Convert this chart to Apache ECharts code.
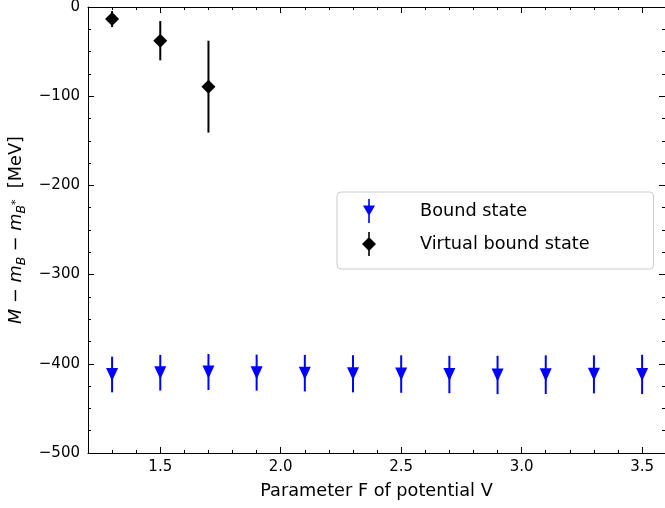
<!DOCTYPE html>
<html>
<head>
<meta charset="utf-8">
<script src="https://cdn.jsdelivr.net/npm/echarts@6/dist/echarts.min.js"></script>
<style>html,body{margin:0;padding:0;background:#fff;}#c{width:665px;height:508px;}</style>
</head>
<body>
<div id="c"></div>
<script>
// ---- data ----
const xBound = [1.3, 1.5, 1.7, 1.9, 2.1, 2.3, 2.5, 2.7, 2.9, 3.1, 3.3, 3.5];
const yBound = [-412, -410, -409.2, -409.9, -410.5, -411.2, -411.5, -412, -412.5, -412.2, -411.8, -411.9];
const errBound = [20, 20, 20.2, 20.2, 20.5, 20.8, 21, 21, 21.5, 21.7, 21.3, 22];

const xVirtual = [1.3, 1.5, 1.7];
const yVirtual = [-13.5, -37.8, -89.3];
const errVirtual = [9, 22, 51.5];

const xMin = 1.2, xMax = 3.595;
const yMin = -500, yMax = 0, yStep = 100;

const FONT = 'DejaVu Sans';
const BLUE = '#0000ff';
const BLACK = '#000000';

const chart = echarts.init(document.getElementById('c'), null, {renderer: 'canvas'});

function errRender(color) {
  return function (params, api) {
    const x = api.value(0), y = api.value(1), e = api.value(2);
    const p1 = api.coord([x, y + e]);
    const p2 = api.coord([x, y - e]);
    return {
      type: 'line',
      shape: {x1: p1[0], y1: p1[1], x2: p2[0], y2: p2[1]},
      style: {stroke: color, lineWidth: 2}
    };
  };
}

const fmtX = v => (Math.abs(v * 2 - Math.round(v * 2)) < 1e-6 ? v.toFixed(1) : '');
const fmtY = v => String(v).replace('-', '\u2212');

const tickCommon = {show: true, inside: true, lineStyle: {color: '#000', width: 1}};

const option = {
  animation: false,
  backgroundColor: '#fff',
  textStyle: {fontFamily: FONT},
  grid: {left: 88, right: 0, top: 7, bottom: 55, containLabel: false, outerBoundsMode: 'none'},
  xAxis: [
    { // bottom, minor ticks + labels
      type: 'value', position: 'bottom', min: xMin, max: xMax, interval: 0.1,
      axisLine: {show: true, onZero: false, lineStyle: {color: '#000', width: 1}},
      axisTick: Object.assign({}, tickCommon, {length: 3}),
      axisLabel: {show: true, formatter: fmtX, fontSize: 15, color: '#000', margin: 7, fontFamily: FONT},
      splitLine: {show: false},
      name: 'Parameter F of potential V', nameLocation: 'middle', nameGap: 29,
      nameTextStyle: {fontSize: 17.7, color: '#000', fontFamily: FONT}
    },
    { // bottom, major ticks
      type: 'value', position: 'bottom', min: xMin, max: xMax, minInterval: 0.5, maxInterval: 0.5,
      axisLine: {show: false, onZero: false},
      axisTick: Object.assign({}, tickCommon, {length: 6}),
      axisLabel: {show: false}, splitLine: {show: false}
    },
    { // top, minor
      type: 'value', position: 'top', min: xMin, max: xMax, interval: 0.1,
      axisLine: {show: true, onZero: false, lineStyle: {color: '#000', width: 1}},
      axisTick: Object.assign({}, tickCommon, {length: 3}),
      axisLabel: {show: false}, splitLine: {show: false}
    },
    { // top, major
      type: 'value', position: 'top', min: xMin, max: xMax, minInterval: 0.5, maxInterval: 0.5,
      axisLine: {show: false, onZero: false},
      axisTick: Object.assign({}, tickCommon, {length: 6}),
      axisLabel: {show: false}, splitLine: {show: false}
    }
  ],
  yAxis: [
    {
      type: 'value', position: 'left', min: yMin, max: yMax, interval: yStep,
      axisLine: {show: true, onZero: false, lineStyle: {color: '#000', width: 1}},
      axisTick: Object.assign({}, tickCommon, {length: 6}),
      minorTick: {show: true, splitNumber: 4, length: 3, lineStyle: {color: '#000', width: 1}},
      axisLabel: {show: true, formatter: fmtY, fontSize: 15, color: '#000', margin: 8, fontFamily: FONT},
      splitLine: {show: false}, minorSplitLine: {show: false},
      name: '{i|M} \u2212 {i|m}{sub|B} \u2212 {i|m}{sub|B}{sup|*}  [MeV]',
      nameLocation: 'middle', nameGap: 59, nameRotate: 90,
      nameTextStyle: {
        fontSize: 17.7, color: '#000', fontFamily: FONT,
        rich: {
          i: {fontSize: 17.7, fontStyle: 'italic', fontFamily: FONT, color: '#000', lineHeight: 24},
          sub: {fontSize: 12.5, fontStyle: 'italic', fontFamily: FONT, color: '#000', lineHeight: 12, verticalAlign: 'bottom'},
          sup: {fontSize: 11, fontFamily: FONT, color: '#000', lineHeight: 11, verticalAlign: 'middle'}
        }
      }
    },
    {
      type: 'value', position: 'right', min: yMin, max: yMax, interval: yStep,
      axisLine: {show: true, onZero: false, lineStyle: {color: '#000', width: 1}},
      axisTick: Object.assign({}, tickCommon, {length: 6}),
      minorTick: {show: true, splitNumber: 4, length: 3, lineStyle: {color: '#000', width: 1}},
      axisLabel: {show: false}, splitLine: {show: false}, minorSplitLine: {show: false}
    }
  ],
  legend: {
    show: true, orient: 'vertical', left: 337, top: 192,
    padding: [7, 64, 13, 25], itemGap: 9, itemWidth: 14, itemHeight: 24,
    backgroundColor: '#fff', borderColor: '#cccccc', borderWidth: 1, borderRadius: 4,
    selectedMode: false,
    textStyle: {fontSize: 17.7, color: '#000', fontFamily: FONT, padding: [0, 0, 0, 39]},
    data: [
      {name: 'Bound state', icon: 'path://M5.2,0 L6.8,0 L6.8,24 L5.2,24 Z M0,6.5 L12,6.5 L6,17 Z'},
      {name: 'Virtual bound state', icon: 'path://M6.2,0 L7.8,0 L7.8,24 L6.2,24 Z M7,5 L14,12 L7,19 L0,12 Z'}
    ]
  },
  series: [
    {
      name: 'errBound', type: 'custom', xAxisIndex: 0, yAxisIndex: 0, z: 2,
      renderItem: errRender(BLUE),
      encode: {x: 0, y: 1},
      data: xBound.map((x, i) => [x, yBound[i], errBound[i]])
    },
    {
      name: 'errVirtual', type: 'custom', xAxisIndex: 0, yAxisIndex: 0, z: 2,
      renderItem: errRender(BLACK),
      encode: {x: 0, y: 1},
      data: xVirtual.map((x, i) => [x, yVirtual[i], errVirtual[i]])
    },
    {
      name: 'Bound state', type: 'scatter', xAxisIndex: 0, yAxisIndex: 0, z: 3,
      symbol: 'triangle', symbolRotate: 180, symbolSize: [12, 13],
      itemStyle: {color: BLUE, opacity: 1},
      data: xBound.map((x, i) => [x, yBound[i]])
    },
    {
      name: 'Virtual bound state', type: 'scatter', xAxisIndex: 0, yAxisIndex: 0, z: 3,
      symbol: 'diamond', symbolSize: [14, 14],
      itemStyle: {color: BLACK, opacity: 1},
      data: xVirtual.map((x, i) => [x, yVirtual[i]])
    }
  ]
};
chart.setOption(option);
</script>
</body>
</html>
